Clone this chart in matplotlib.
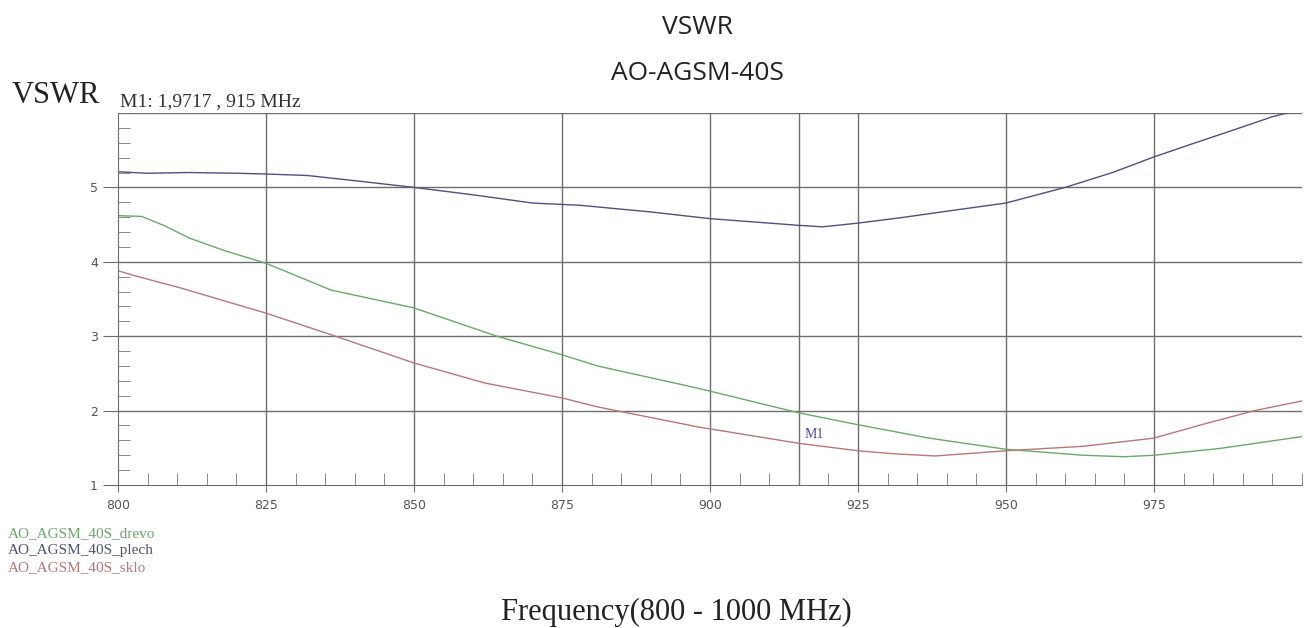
import numpy as np
import matplotlib.pyplot as plt
from matplotlib.ticker import MultipleLocator

# frequencies in MHz, VSWR
f_plech = [800, 805, 812, 820, 825, 832, 840, 850, 860, 870, 878, 890, 900, 910, 915,
           919, 925, 932, 940, 950, 960, 968, 975, 982, 988, 995, 1000]
vswr_plech = [5.21, 5.19, 5.2, 5.19, 5.18, 5.16, 5.09, 5.0, 4.9, 4.79, 4.76, 4.67, 4.58, 4.52, 4.49,
              4.47, 4.52, 4.59, 4.68, 4.79, 5.0, 5.2, 5.41, 5.6, 5.76, 5.95, 6.05]

f_drevo = [800, 804, 808, 812, 818, 825, 836, 850, 864, 875, 881, 898, 915, 925, 937, 950, 963,
           970, 975, 986, 1000]
vswr_drevo = [4.62, 4.61, 4.48, 4.32, 4.15, 3.98, 3.62, 3.38, 3.0, 2.75, 2.6, 2.3, 1.97, 1.81, 1.63, 1.48, 1.4,
              1.38, 1.4, 1.49, 1.65]

f_sklo = [800, 802.5, 810.5, 825, 836, 850, 862, 875, 881, 898, 915, 925, 931, 938, 950,
          963, 975, 983, 992, 1000]
vswr_sklo = [3.88, 3.82, 3.65, 3.31, 3.02, 2.64, 2.37, 2.17, 2.05, 1.78, 1.56, 1.46, 1.42, 1.39, 1.46,
             1.52, 1.63, 1.81, 2.0, 2.13]

names = ['AO_AGSM_40S_drevo', 'AO_AGSM_40S_plech', 'AO_AGSM_40S_sklo']
colors = ['#6aa86a', '#4b5478', '#b87878']

fig = plt.figure(figsize=(13.04, 6.28), dpi=100)
ax = fig.add_axes([118/1304, 1 - 485/628, (1302 - 118)/1304, (485 - 113)/628])

ax.plot(f_drevo, vswr_drevo, color=colors[0], lw=1)
ax.plot(f_plech, vswr_plech, color=colors[1], lw=1)
ax.plot(f_sklo, vswr_sklo, color=colors[2], lw=1)

ax.set_xlim(800, 1000)
ax.set_ylim(1, 6)

grid_c = '#6e6e6e'
for x in [825, 850, 875, 900, 915, 925, 950, 975]:
    ax.axvline(x, color=grid_c, lw=1, zorder=0)
for y in [2, 3, 4, 5, 6]:
    ax.axhline(y, color=grid_c, lw=1, zorder=0)

ax.set_xticks([800, 825, 850, 875, 900, 925, 950, 975])
ax.set_yticks([1, 2, 3, 4, 5])
ax.xaxis.set_minor_locator(MultipleLocator(5))
ax.yaxis.set_minor_locator(MultipleLocator(0.2))
ax.tick_params(axis='x', which='major', direction='out', length=5, color=grid_c,
               labelsize=9, labelcolor='#555555', pad=5)
ax.tick_params(axis='y', which='major', direction='out', length=11, color=grid_c,
               labelsize=9, labelcolor='#555555', pad=3.5)
ax.tick_params(axis='x', which='minor', direction='in', length=8.5, color='#777777')
ax.tick_params(axis='y', which='minor', direction='in', length=8.5, color='#777777')

for s in ['top', 'right']:
    ax.spines[s].set_visible(False)
for s in ['left', 'bottom']:
    ax.spines[s].set_color(grid_c)

ax.text(916, 1.63, 'M1', color='#4a4a9a', fontsize=10, family='Liberation Serif')

fig.text(697 / 1304, 1 - 27 / 628, 'VSWR', ha='center', va='center',
         fontsize=19, family='Open Sans', color='#222222')
fig.text(697 / 1304, 1 - 73 / 628, 'AO-AGSM-40S', ha='center', va='center',
         fontsize=19, family='Open Sans', color='#222222')
fig.text(12 / 1304, 1 - 103 / 628, 'VSWR', ha='left', va='baseline',
         fontsize=22, family='Liberation Serif', color='#222222')
fig.text(120 / 1304, 1 - 106 / 628, 'M1: 1,9717 , 915 MHz', ha='left', va='baseline',
         fontsize=14, family='Liberation Serif', color='#333333')
fig.text(676 / 1304, 1 - 620 / 628, 'Frequency(800 - 1000 MHz)', ha='center', va='baseline',
         fontsize=22, family='Liberation Serif', color='#222222')

for i, (n, c) in enumerate(zip(names, colors)):
    fig.text(8 / 1304, 1 - (537 + 17 * i) / 628, n, ha='left', va='baseline',
             fontsize=11, family='Liberation Serif', color=c)

fig.savefig('out.png', dpi=100)
